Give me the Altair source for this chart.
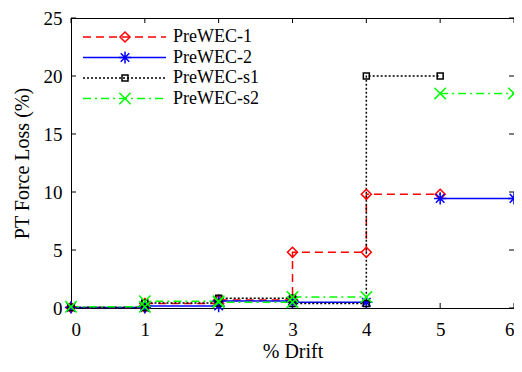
import altair as alt
import pandas as pd

series = ["PreWEC-1", "PreWEC-2", "PreWEC-s1", "PreWEC-s2"]
colors = ["#ff0000", "#0000ff", "#000000", "#00ff00"]
dashes = [[8, 5], [1, 0], [2, 2], [8, 4, 2, 4]]
shapes = [
    "M0,-1L1,0L0,1L-1,0Z",
    "M0,-1L0,1M-1,0L1,0M-0.7,-0.7L0.7,0.7M-0.7,0.7L0.7,-0.7",
    "M-1,-1L1,-1L1,1L-1,1Z",
    "M-1,-1L1,1M-1,1L1,-1",
]
sizes = [100, 150, 36, 130]

# step vertices (None = break in the line)
red_x = [0, 1, 1, 2, 2, 3, 3, 4, 4, 5]
red_y = [0.05, 0.05, 0.38, 0.38, 0.68, 0.68, 4.8, 4.8, 9.8, 9.8]
blue_x = [0, 1, 1, 2, 2, 3, 3, 4, None, 5, 6]
blue_y = [0.05, 0.05, 0.17, 0.17, 0.6, 0.6, 0.5, 0.5, None, 9.45, 9.45]
black_x = [0, 1, 1, 2, 2, 3, 3, 4, 4, 5]
black_y = [0.05, 0.05, 0.44, 0.44, 0.85, 0.85, 0.38, 0.38, 20.0, 20.0]
green_x = [0, 1, 1, 2, 2, 3, 3, 4, None, 5, 6]
green_y = [0.1, 0.1, 0.58, 0.58, 0.5, 0.5, 0.94, 0.94, None, 18.5, 18.5]

x_ticks = [0, 1, 2, 3, 4, 5, 6]
y_ticks = [0, 5, 10, 15, 20, 25]

W, H = 443, 290
FONT = "Liberation Serif"

rows = []
i = 0
for name, sz, xs, ys in zip(series, sizes, [red_x, blue_x, black_x, green_x],
                            [red_y, blue_y, black_y, green_y]):
    seg = 0
    for xv, yv in zip(xs, ys):
        if yv is None:
            seg += 1
            continue
        rows.append({"series": name, "x": xv, "y": yv, "seg": f"{name}_{seg}",
                     "i": i, "sz": sz})
        i += 1
df = pd.DataFrame(rows)

xscale = alt.Scale(domain=[0, 6], nice=False)
yscale = alt.Scale(domain=[0, 25], nice=False)
color = alt.Color("series:N", scale=alt.Scale(domain=series, range=colors), legend=None)

X = alt.X("x:Q", scale=xscale,
          axis=alt.Axis(values=x_ticks, title="% Drift", format="d",
                        labelPadding=12, titlePadding=2))
Y = alt.Y("y:Q", scale=yscale,
          axis=alt.Axis(values=y_ticks, title="PT Force Loss (%)", format="d",
                        labelPadding=9, titlePadding=11))

lines = alt.Chart(df).mark_line(strokeWidth=1.5).encode(
    x=X, y=Y, color=color,
    strokeDash=alt.StrokeDash("series:N", scale=alt.Scale(domain=series, range=dashes), legend=None),
    detail="seg:N",
    order=alt.Order("i:Q"),
)

points = alt.Chart(df).mark_point(filled=False, strokeWidth=1.5, opacity=1).encode(
    x=alt.X("x:Q", scale=xscale),
    y=alt.Y("y:Q", scale=yscale),
    color=color,
    shape=alt.Shape("series:N", scale=alt.Scale(domain=series, range=shapes), legend=None),
    size=alt.Size("sz:Q", scale=None, legend=None),
)

yt = pd.DataFrame({"v": y_ticks})
xt = pd.DataFrame({"v": x_ticks})
ytl = alt.Chart(yt).mark_rule(color="black", strokeWidth=1).encode(
    y=alt.Y("v:Q", scale=yscale), x=alt.value(0), x2=alt.value(5))
ytr = alt.Chart(yt).mark_rule(color="black", strokeWidth=1).encode(
    y=alt.Y("v:Q", scale=yscale), x=alt.value(W - 5), x2=alt.value(W))
xtb = alt.Chart(xt).mark_rule(color="black", strokeWidth=1).encode(
    x=alt.X("v:Q", scale=xscale), y=alt.value(H), y2=alt.value(H - 5))
xtt = alt.Chart(xt).mark_rule(color="black", strokeWidth=1).encode(
    x=alt.X("v:Q", scale=xscale), y=alt.value(0), y2=alt.value(5))

layers = [ytl, ytr, xtb, xtt, lines, points]

leg_y = [19, 39.5, 60, 80.5]
for name, c, d, s, sz, ly in zip(series, colors, dashes, shapes, sizes, leg_y):
    layers.append(alt.Chart().mark_rule(color=c, strokeDash=d, strokeWidth=1.5).encode(
        x=alt.value(12), x2=alt.value(95), y=alt.value(ly)))
    layers.append(alt.Chart().mark_point(shape=s, size=sz, filled=False, color=c,
                                         strokeWidth=1.5, opacity=1).encode(
        x=alt.value(54), y=alt.value(ly)))
    layers.append(alt.Chart().mark_text(text=name, align="left", baseline="middle",
                                        font=FONT, fontSize=18, color="black").encode(
        x=alt.value(102), y=alt.value(ly)))

chart = alt.layer(*layers).properties(
    width=W, height=H,
    autosize=alt.AutoSizeParams(type="none"),
    padding={"left": 63, "top": 10, "right": 0, "bottom": 55},
).configure_view(stroke="black", strokeWidth=1).configure_axis(
    labelFont=FONT, titleFont=FONT, labelFontSize=19, titleFontSize=20,
    titleFontWeight="normal", labelColor="black", titleColor="black",
    ticks=False, tickSize=0, grid=False, domainColor="black", domainWidth=1,
)

chart.save("out.html", embed_options={"renderer": "svg", "actions": False})
